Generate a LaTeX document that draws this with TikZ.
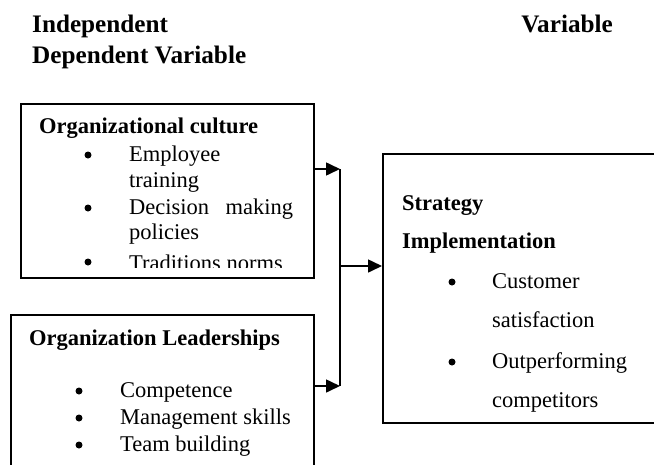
\documentclass[tikz,border=0pt]{standalone}
\usepackage{fontspec}
\setmainfont{Liberation Serif}
\usetikzlibrary{arrows.meta}

\begin{document}
\begin{tikzpicture}[x=1pt,y=-1pt,
  box/.style={draw,line width=1.6pt,inner sep=0pt,anchor=north west},
  txt/.style={anchor=base west,inner sep=0pt,font=\fontsize{22.5}{26}\selectfont},
  bold/.style={txt,font=\fontsize{22.5}{26}\selectfont\bfseries},
  head/.style={txt,font=\fontsize{25.2}{28}\selectfont\bfseries},
  bul/.style={circle,fill,inner sep=0pt,minimum size=7pt},
  link/.style={line width=1.6pt,-{Triangle[length=14pt,width=13pt]}}]
  \useasboundingbox (0,0) rectangle (654,464);

  % headings
  \node[head] (indep) at (32,32) {Independent};
  \node[head,anchor=base east] (var) at (613,32) {Variable};
  \node[head] (dep) at (32,63) {Dependent Variable};

  % boxes
  \node[box,minimum width=293pt,minimum height=174pt] (culture) at (20,103) {};
  \node[box,minimum width=303pt,minimum height=170pt] (leader) at (10,314) {};
  \node[box,minimum width=290pt,minimum height=269pt] (strategy) at (382,153) {};

  % organizational culture
  \node[bold] (culturetitle) at (39,133) {Organizational culture};
  \node[bul] (b1) at (88,155) {};
  \node[txt] (t1) at (129,161) {Employee};
  \node[txt] (t1b) at (129,187) {training};
  \node[bul] (b2) at (88,208) {};
  \node[txt] (t2) at (129,214) {\hbox to 164pt{Decision\hfill making}};
  \node[txt] (t2b) at (129,239) {policies};
  \node[bul] (b3) at (88,262) {};
  \begin{scope}
    %\clip (20,103) rectangle (313,268.5);
    \clip (20,103) rectangle (313,267.5);
    \node[txt] (t3) at (129,270) {Traditions norms};
  \end{scope}

  % leadership
  \node[bold] (leadertitle) at (29,345) {Organization Leaderships};
  \node[bul] (b4) at (79,391) {};
  \node[txt] (t4) at (120,397) {Competence};
  \node[bul] (b5) at (79,418) {};
  \node[txt] (t5) at (120,424) {Management skills};
  \node[bul] (b6) at (79,445) {};
  \node[txt] (t6) at (120,451) {Team building};

  % strategy implementation
  \node[bold] (strat1) at (402,210) {Strategy};
  \node[bold] (strat2) at (402,248) {Implementation};
  \node[bul] (b7) at (452,282) {};
  \node[txt] (t7) at (492,288) {Customer};
  \node[txt] (t7b) at (492,327) {satisfaction};
  \node[bul] (b8) at (452,362) {};
  \node[txt] (t8) at (492,368) {Outperforming};
  \node[txt] (t8b) at (492,407) {competitors};

  % connectors
  \coordinate (jtop) at (340,169);
  \coordinate (jbot) at (340,386);
  \coordinate (jmid) at (340,266);
  \draw[link] (culture.east |- jtop) -- (jtop);
  \draw[link] (leader.east |- jbot) -- (jbot);
  \draw[line width=1.6pt] (jtop) -- (jbot);
  \draw[link] (jmid) -- (strategy.west |- jmid);

\end{tikzpicture}
\end{document}
